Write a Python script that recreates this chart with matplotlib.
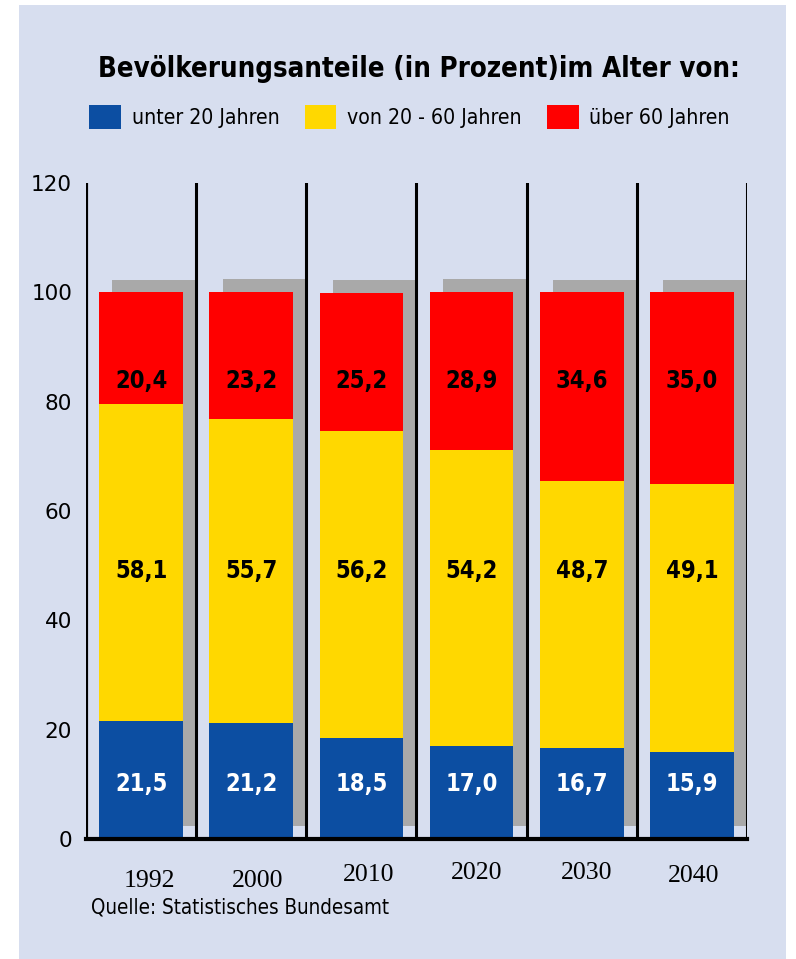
"""Bevölkerungsanteile nach Altersgruppen, 1992-2040 (gestapelte Balken)."""
import matplotlib
matplotlib.use("Agg")
import matplotlib.pyplot as plt
import numpy as np
from matplotlib.patches import Patch, Rectangle

years = ["1992", "2000", "2010", "2020", "2030", "2040"]
under_20 = [21.5, 21.2, 18.5, 17.0, 16.7, 15.9]
from_20_60 = [58.1, 55.7, 56.2, 54.2, 48.7, 49.1]
over_60 = [20.4, 23.2, 25.2, 28.9, 34.6, 35.0]
series_labels = ["unter 20 Jahren", "von 20 - 60 Jahren", "über 60 Jahren"]
y_ticks = [0, 20, 40, 60, 80, 100, 120]

BLUE = "#0c4ea2"
YELLOW = "#ffd800"
RED = "#ff0000"
SHADOW = "#a9a9a9"
BG = "#d7deef"
NARROW = ["DejaVu Sans"]

fig = plt.figure(figsize=(7.96, 9.59), dpi=100)
fig.patch.set_facecolor("white")
fig.patches.append(Rectangle((19 / 796, 0.0), (786 - 19) / 796, 1 - 5 / 959,
                             transform=fig.transFigure, facecolor=BG,
                             edgecolor="none", zorder=-10))

ax = fig.add_axes([86 / 796, 1 - 839 / 959, 661 / 796, 656 / 959])
ax.set_facecolor("none")

x = np.arange(len(years))
w = 0.76
lo = np.array(under_20)
mid = np.array(from_20_60)
hi = np.array(over_60)

# grey "shadow" block behind each bar
ax.bar(x + 0.12, lo + mid + hi, bottom=2.3, width=w, color=SHADOW, zorder=1)
ax.bar(x, lo, width=w, color=BLUE, zorder=2)
ax.bar(x, mid, bottom=lo, width=w, color=YELLOW, zorder=2)
ax.bar(x, hi, bottom=lo + mid, width=w, color=RED, zorder=2)

lab_kw = dict(ha="center", va="center", fontsize=17, fontweight="bold",
              fontstretch="condensed", zorder=3)
for i in range(len(years)):
    ax.text(x[i], 10.0, f"{under_20[i]:.1f}".replace(".", ","), color="white", **lab_kw)
    ax.text(x[i], 49.0, f"{from_20_60[i]:.1f}".replace(".", ","), color="black", **lab_kw)
    ax.text(x[i], 83.8, f"{over_60[i]:.1f}".replace(".", ","), color="black", **lab_kw)

# separator lines between the columns
for b in np.arange(-0.5, len(years), 1.0):
    ax.axvline(b, color="black", lw=3.0 if b < 0 else 2.2, zorder=4)

ax.set_xlim(-0.5, len(years) - 0.5)
ax.set_ylim(0, 120)
ax.set_yticks(y_ticks)
ax.set_xticks([])
ax.tick_params(axis="y", length=0, pad=10, labelsize=15.5)
for s in ("top", "right", "left"):
    ax.spines[s].set_visible(False)
ax.spines["bottom"].set_linewidth(3)
ax.spines["bottom"].set_zorder(5)

# year labels (slightly uneven, as in the original)
year_dx = [0.08, 0.055, 0.064, 0.045, 0.045, 0.02]
year_y = [-7.7, -7.7, -6.6, -6.2, -6.2, -6.8]
for i, yr in enumerate(years):
    ax.text(x[i] + year_dx[i], year_y[i], yr, ha="center", va="center",
            family="Liberation Serif", fontsize=18.5, clip_on=False)

fig.text(418.5 / 796, 1 - 69 / 959, "Bevölkerungsanteile (in Prozent)im Alter von:",
         ha="center", va="center", family=NARROW, fontweight="bold",
         fontstretch="condensed", fontsize=19.8)

handles = [Patch(facecolor=c, edgecolor="none") for c in (BLUE, YELLOW, RED)]
fig.legend(handles, series_labels, loc="center", bbox_to_anchor=(409.5 / 796, 1 - 117 / 959),
           ncol=3, frameon=False,
           prop={"family": NARROW, "size": 15.2, "stretch": "condensed"},
           handlelength=1.5, handleheight=1.3, handletextpad=0.5, columnspacing=1.2)

fig.text(91 / 796, 1 - 907 / 959, "Quelle: Statistisches Bundesamt", ha="left",
         va="center", family=NARROW, fontstretch="condensed", fontsize=14.8)

fig.savefig("out.png", dpi=100)
